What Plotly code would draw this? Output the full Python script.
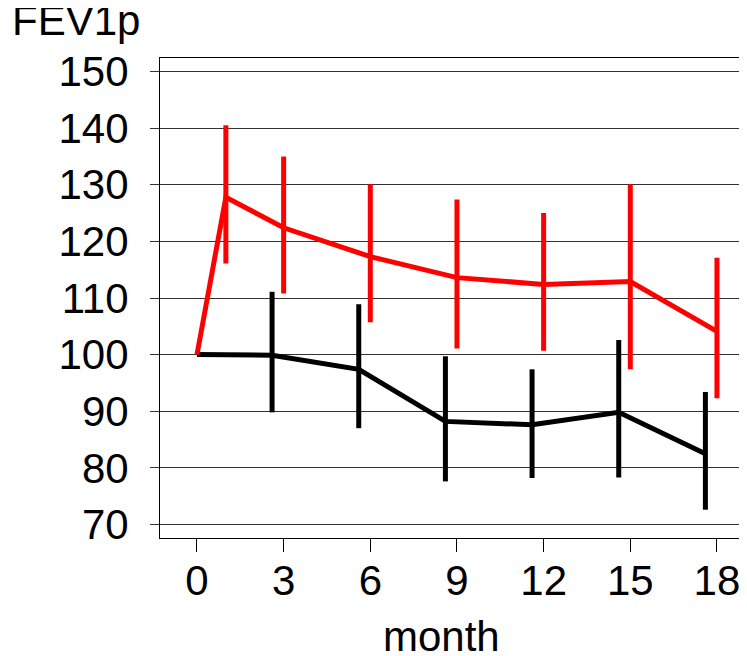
import plotly.graph_objects as go

# Data
months_ticks = [0, 3, 6, 9, 12, 15, 18]

red_x = [0, 1, 3, 6, 9, 12, 15, 18]
red_y = [100, 127.8, 122.4, 117.3, 113.6, 112.4, 112.9, 104.1]
red_err_plus = [0, 12.7, 12.6, 12.8, 13.8, 12.6, 17.2, 13.0]
red_err_minus = [0, 11.7, 11.6, 11.6, 12.5, 11.7, 15.5, 11.8]

black_x = [0, 2.6, 5.6, 8.6, 11.6, 14.6, 17.6]
black_y = [100, 99.9, 97.4, 88.2, 87.6, 89.8, 82.5]
black_err_plus = [0, 11.2, 11.5, 11.5, 9.8, 12.8, 10.9]
black_err_minus = [0, 10.1, 10.4, 10.6, 9.4, 11.5, 9.9]

FONT = "Liberation Sans, Arial, sans-serif"
FS = 42
# page has an 8px body margin; figure fills the rest of the 747x656 window
OFF = 8
W, H = 747 - OFF, 656 - OFF
ML, MR, MT, MB = 160 - OFF, 0, 58 - OFF, 118
PW = W - ML - MR
PH = H - MT - MB


def px_x(px):
    return (px - OFF - ML) / PW


def px_y(py):
    return (H - MB - (py - OFF)) / PH


fig = go.Figure()
fig.add_trace(go.Scatter(
    x=black_x, y=black_y, mode="lines",
    line=dict(color="black", width=5),
    error_y=dict(type="data", symmetric=False, array=black_err_plus,
                 arrayminus=black_err_minus, color="black", thickness=5, width=0),
    showlegend=False,
))
fig.add_trace(go.Scatter(
    x=red_x, y=red_y, mode="lines",
    line=dict(color="#FF0000", width=5),
    error_y=dict(type="data", symmetric=False, array=red_err_plus,
                 arrayminus=red_err_minus, color="#FF0000", thickness=5, width=0),
    showlegend=False,
))

fig.update_layout(
    width=W, height=H,
    margin=dict(l=ML, r=MR, t=MT, b=MB, pad=0, autoexpand=False),
    paper_bgcolor="white", plot_bgcolor="white",
    font=dict(family=FONT, size=FS, color="black"),
    xaxis=dict(
        range=[-1.28, 19.04], tickvals=months_ticks,
        showgrid=False, zeroline=False, automargin=False,
        showline=True, linecolor="black", linewidth=1, mirror=True,
        ticks="outside", ticklen=13, tickcolor="black", tickwidth=1,
        tickfont=dict(family=FONT, size=FS, color="black"),
        ticklabelstandoff=-7,
    ),
    yaxis=dict(
        range=[67.6, 152.4], tick0=70, dtick=10,
        showgrid=True, gridcolor="#333333", gridwidth=1, zeroline=False,
        automargin=False,
        showline=True, linecolor="black", linewidth=1, mirror=False,
        ticks="outside", ticklen=9, tickcolor="#333333", tickwidth=1,
        tickfont=dict(family=FONT, size=FS, color="black"),
        ticklabelstandoff=13,
    ),
    annotations=[
        dict(text="FEV1p", xref="paper", yref="paper",
             x=px_x(10), y=px_y(21), xanchor="left", yanchor="middle",
             showarrow=False, font=dict(family=FONT, size=FS, color="black")),
        dict(text="month", xref="paper", yref="paper",
             x=px_x(441.5), y=px_y(636), xanchor="center", yanchor="middle",
             showarrow=False, font=dict(family=FONT, size=FS, color="black")),
    ],
)

fig.write_html("out.html")
